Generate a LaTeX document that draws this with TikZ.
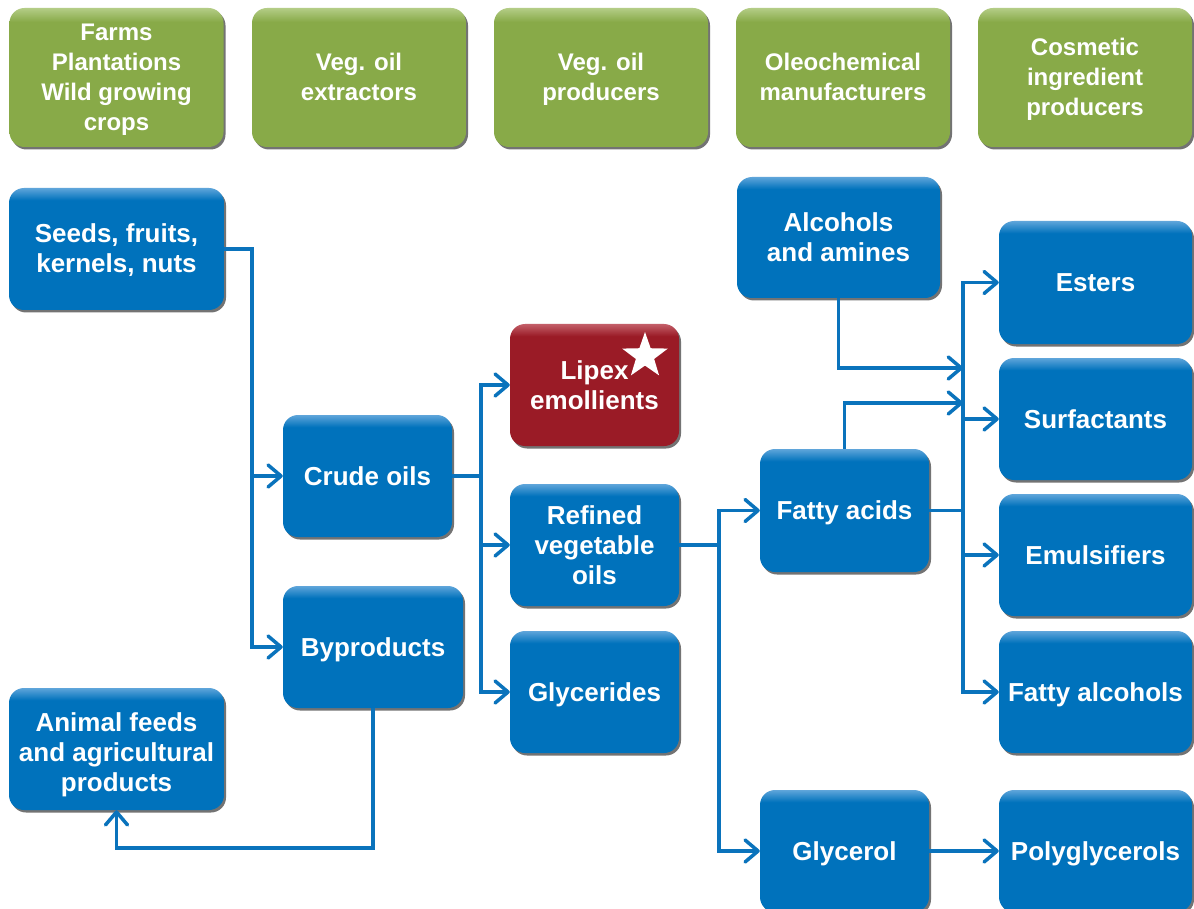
\documentclass[tikz,border=0pt]{standalone}
\usepackage{fontspec}
\setmainfont{Liberation Sans}
\usetikzlibrary{arrows.meta,shadows,shapes.geometric,calc}
\definecolor{bmain}{RGB}{0,114,188}
\definecolor{blight}{RGB}{95,165,218}
\definecolor{gmain}{RGB}{136,170,72}
\definecolor{glight}{RGB}{180,205,135}
\definecolor{rmain}{RGB}{154,27,38}
\definecolor{rlight}{RGB}{195,95,105}
\definecolor{lineblue}{RGB}{10,115,188}
\pgfdeclareverticalshading{bshade}{100bp}{color(0bp)=(bmain); color(70bp)=(bmain); color(75bp)=(blight); color(100bp)=(blight)}
\pgfdeclareverticalshading{gshade}{100bp}{color(0bp)=(gmain); color(70bp)=(gmain); color(75bp)=(glight); color(100bp)=(glight)}
\pgfdeclareverticalshading{rshade}{100bp}{color(0bp)=(rmain); color(70bp)=(rmain); color(75bp)=(rlight); color(100bp)=(rlight)}
\newcommand{\bstrut}{\rule[-5.5pt]{0pt}{29pt}}
\newcommand{\gstrut}{\rule[-5.1pt]{0pt}{26.8pt}}
\newcommand{\astrut}{\rule[-5.5pt]{0pt}{36pt}}
\tikzset{
  basebox/.style={rounded corners=15pt, align=center, text=white, inner sep=0pt,
    drop shadow={shadow xshift=2pt, shadow yshift=-2.5pt, fill=black, opacity=0.55}},
  bbox/.style={basebox, shading=bshade, minimum width=169pt, minimum height=122pt,
    font=\fontsize{26}{30}\selectfont\bfseries,
    execute at begin node=\bstrut, execute at end node=\bstrut},
  rbox/.style={basebox, shading=rshade, minimum width=169pt, minimum height=122pt,
    font=\fontsize{26}{30}\selectfont\bfseries,
    execute at begin node=\bstrut, execute at end node=\bstrut},
  gbox/.style={basebox, shading=gshade, minimum width=214pt, minimum height=139pt,
    font=\fontsize{24}{30}\selectfont\bfseries,
    execute at begin node=\gstrut, execute at end node=\gstrut},
  conn/.style={draw=lineblue, line width=3.5pt},
  arr/.style={conn, -{Straight Barb[length=13pt,width=22pt,round]}},
}
\begin{document}
\begin{tikzpicture}[x=1pt,y=-1pt]
\useasboundingbox (0,0) rectangle (1194,909);
\fill[white] (0,0) rectangle (1194,909);

% top row
\node[gbox] (g1) at (116.5,77.5) {\gstrut Farms\\Plantations\\Wild growing\\crops\gstrut};
\node[gbox] (g2) at (359,77.5) {\gstrut Veg. oil\\extractors\gstrut};
\node[gbox] (g3) at (601,77.5) {\gstrut Veg. oil\\producers\gstrut};
\node[gbox] (g4) at (843,77.5) {\gstrut Oleochemical\\manufacturers\gstrut};
\node[gbox] (g5) at (1085,77.5) {\gstrut Cosmetic\\ingredient\\producers\gstrut};

% blue boxes
\node[bbox, minimum width=215pt] (seeds) at (116.5,249) {\bstrut Seeds, fruits,\\kernels, nuts\bstrut};
\node[bbox] (crude) at (367.5,476) {Crude oils};
\node[bbox, minimum width=180pt] (byp) at (373,647) {Byproducts};
\node[bbox, minimum width=215pt] (animal) at (116.5,749) {\astrut Animal feeds\\and agricultural\\products\bstrut};
\node[rbox] (lipex) at (594.5,385) {\bstrut Lipex\\emollients\bstrut};
\node[star, star points=5, star point ratio=2.5, minimum size=48pt, fill=white, inner sep=0pt] (star) at (645,356) {};
\node[bbox] (refined) at (594.5,545) {\bstrut Refined\\vegetable\\oils\bstrut};
\node[bbox] (glyc) at (594.5,692) {Glycerides};
\node[bbox, minimum width=203pt, minimum height=121pt] (alc) at (838.5,237.5) {\bstrut Alcohols\\and amines\bstrut};
\node[bbox, minimum height=123pt] (fatty) at (844.5,510.5) {Fatty acids};
\node[bbox] (glycerol) at (844.5,851) {Glycerol};
\node[bbox, minimum width=193pt, minimum height=123pt] (esters) at (1095.5,282.5) {Esters};
\node[bbox, minimum width=193pt] (surf) at (1095.5,419) {Surfactants};
\node[bbox, minimum width=193pt] (emul) at (1095.5,555) {Emulsifiers};
\node[bbox, minimum width=193pt] (fatalc) at (1095.5,692) {Fatty alcohols};
\node[bbox, minimum width=193pt] (poly) at (1095.5,851) {Polyglycerols};

% junction columns
\coordinate (v1) at (252,0);
\coordinate (v2) at (481,0);
\coordinate (v3) at (719,0);
\coordinate (v4) at (963,0);
\coordinate (in1) at (963,368);
\coordinate (in2) at (963,403);

% connectors
\draw[arr] (seeds.east) -| (v1 |- crude.west) -- (crude.west);
\draw[arr] (v1 |- crude.west) |- (byp.west);

\draw[conn] (crude.east) -- (v2 |- crude.east);
\draw[arr] (v2 |- crude.east) |- (lipex.west);
\draw[arr] (v2 |- crude.east) |- (refined.west);
\draw[arr] (v2 |- crude.east) |- (glyc.west);

\draw[arr] (byp.south) -- ++(0,140) -| (animal.south);

\draw[conn] (refined.east) -- (v3 |- refined.east);
\draw[arr] (v3 |- refined.east) |- (fatty.west);
\draw[arr] (v3 |- refined.east) |- (glycerol.west);

\draw[conn] (fatty.east) -- (v4 |- fatty.east);
\draw[arr] (v4 |- fatty.east) |- (esters.west);
\draw[arr] (v4 |- fatty.east) |- (surf.west);
\draw[arr] (v4 |- fatty.east) |- (emul.west);
\draw[arr] (v4 |- fatty.east) |- (fatalc.west);

\draw[arr] (fatty.north) |- (in2);
\draw[arr] (alc.south) |- (in1);

\draw[arr] (glycerol.east) -- (poly.west);
\end{tikzpicture}
\end{document}
